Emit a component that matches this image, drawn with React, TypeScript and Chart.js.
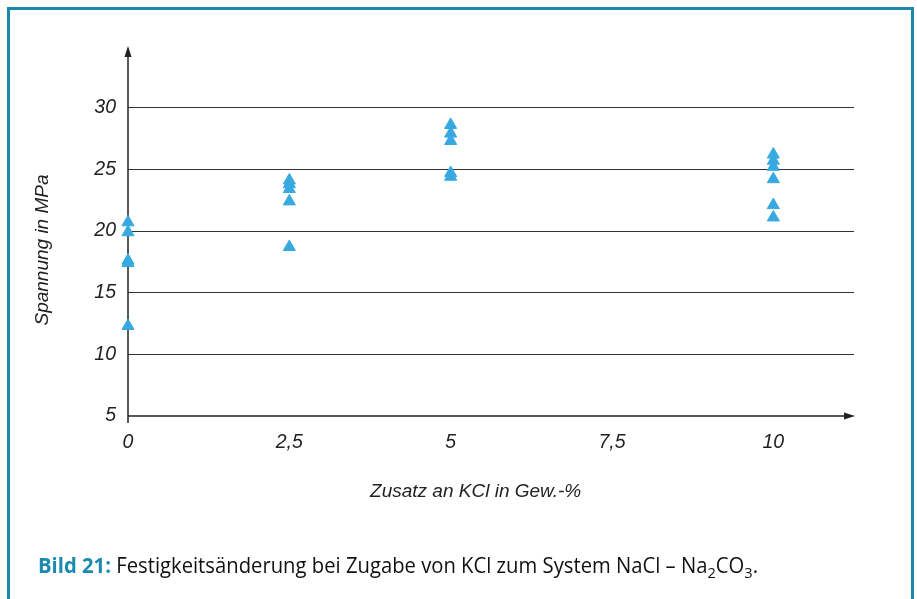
import React, { useEffect, useLayoutEffect, useRef } from "react";
import { Chart, registerables } from "chart.js";

Chart.register(...registerables);

// ---- data ----
const kclAdditions = [0, 2.5, 5, 10];
const stressAt0 = [20.7, 19.9, 17.6, 17.4, 12.3];
const stressAt2_5 = [24.1, 23.8, 23.4, 22.4, 18.7];
const stressAt5 = [28.6, 27.9, 27.3, 24.7, 24.4];
const stressAt10 = [26.2, 25.7, 25.2, 24.2, 22.1, 21.1];
const stressSeries = [stressAt0, stressAt2_5, stressAt5, stressAt10];

const xTickValues = [0, 2.5, 5, 7.5, 10];
const xTickLabels = ["0", "2,5", "5", "7,5", "10"];
const yTickValues = [5, 10, 15, 20, 25, 30];
const yTickLabels = ["5", "10", "15", "20", "25", "30"];

const xMin = 0;
const xMax = 11.25;
const yMin = 5;
const yMax = 35;

const xTitle = "Zusatz an KCl in Gew.-%";
const yTitle = "Spannung in MPa";

const POINT_COLOR = "#38a9e0";
const INK = "#222222";
const FONT = "'Liberation Sans', Arial, sans-serif";

const axesPlugin = {
  id: "arrowAxes",
  beforeDatasetsDraw(chart: any) {
    const { ctx, chartArea, scales } = chart;
    const ox = scales.x.getPixelForValue(xMin);
    const oy = scales.y.getPixelForValue(yMin);
    const top = chartArea.top;
    const right = chartArea.right + 1;
    ctx.save();
    ctx.strokeStyle = INK;
    ctx.fillStyle = INK;
    ctx.lineWidth = 1.5;
    // y axis
    ctx.beginPath();
    ctx.moveTo(ox, oy + 7);
    ctx.lineTo(ox, top + 8);
    ctx.stroke();
    ctx.beginPath();
    ctx.moveTo(ox, top);
    ctx.lineTo(ox - 3.5, top + 11);
    ctx.lineTo(ox + 3.5, top + 11);
    ctx.closePath();
    ctx.fill();
    // x axis
    ctx.beginPath();
    ctx.moveTo(ox, oy);
    ctx.lineTo(right - 8, oy);
    ctx.stroke();
    ctx.beginPath();
    ctx.moveTo(right, oy);
    ctx.lineTo(right - 11, oy - 3.5);
    ctx.lineTo(right - 11, oy + 3.5);
    ctx.closePath();
    ctx.fill();
    ctx.restore();
  },
  afterDraw(chart: any) {
    const { ctx, scales } = chart;
    ctx.save();
    ctx.fillStyle = INK;
    ctx.font = `italic 19px ${FONT}`;
    ctx.textAlign = "center";
    ctx.textBaseline = "middle";
    // x title
    const xc = (scales.x.getPixelForValue(0) + scales.x.getPixelForValue(10)) / 2 + 25;
    ctx.fillText(xTitle, xc, 492);
    // y title
    ctx.translate(43, 250);
    ctx.rotate(-Math.PI / 2);
    ctx.fillText(yTitle, 0, 0);
    ctx.restore();
  },
};

function ChartCanvas() {
  const canvasRef = useRef<HTMLCanvasElement | null>(null);
  useEffect(() => {
    const canvas = canvasRef.current;
    if (!canvas) return;
    const points: { x: number; y: number }[] = [];
    kclAdditions.forEach((k, i) => {
      stressSeries[i].forEach((v) => points.push({ x: k, y: v }));
    });
    const chart = new Chart(canvas, {
      type: "scatter",
      data: {
        datasets: [
          {
            data: points,
            clip: false,
            pointStyle: "triangle",
            pointRadius: 7,
            pointBorderWidth: 1,
            backgroundColor: POINT_COLOR,
            borderColor: POINT_COLOR,
          },
        ],
      },
      options: {
        animation: false,
        responsive: false,
        maintainAspectRatio: false,
        events: [],
        layout: { padding: { left: 0, top: 46, right: 63, bottom: 0 } },
        plugins: {
          legend: { display: false },
          title: { display: false },
          tooltip: { enabled: false },
        },
        scales: {
          x: {
            type: "linear",
            min: xMin,
            max: xMax,
            afterFit(scale: any) {
              scale.height = 183;
            },
            afterBuildTicks(scale: any) {
              scale.ticks = xTickValues.map((v) => ({ value: v }));
            },
            border: { display: false },
            grid: { display: false, drawTicks: false },
            ticks: {
              padding: 15,
              color: INK,
              font: { family: FONT, size: 19.5, style: "italic" },
              callback: (v: any) => {
                const i = xTickValues.indexOf(Number(v));
                return i >= 0 ? xTickLabels[i] : "";
              },
            },
          },
          y: {
            type: "linear",
            min: yMin,
            max: yMax,
            afterFit(scale: any) {
              scale.width = 128;
            },
            afterBuildTicks(scale: any) {
              scale.ticks = yTickValues.map((v) => ({ value: v }));
            },
            border: { display: false },
            grid: {
              drawTicks: false,
              color: (c: any) => (c.tick && c.tick.value > yMin ? "#333333" : "rgba(0,0,0,0)"),
              lineWidth: 1,
            },
            ticks: {
              padding: 12,
              color: INK,
              font: { family: FONT, size: 19.5, style: "italic" },
              callback: (v: any) => {
                const i = yTickValues.indexOf(Number(v));
                return i >= 0 ? yTickLabels[i] : "";
              },
            },
          },
        },
      },
      plugins: [axesPlugin],
    });
    return () => chart.destroy();
  }, []);
  return (
    <canvas
      ref={canvasRef}
      width={917}
      height={599}
      style={{ position: "absolute", left: 0, top: 0, width: 917, height: 599 }}
    />
  );
}

function Caption() {
  const ref = useRef<HTMLSpanElement | null>(null);
  useLayoutEffect(() => {
    const el = ref.current;
    if (!el) return;
    el.style.transform = "none";
    const w = el.getBoundingClientRect().width;
    if (w > 0) el.style.transform = `scaleX(${720 / w})`;
  }, []);
  const subStyle: React.CSSProperties = { fontSize: "0.72em", verticalAlign: "-0.3em", lineHeight: 0 };
  return (
    <span
      ref={ref}
      style={{
        position: "absolute",
        left: 38,
        top: 555,
        fontFamily: "'Open Sans', 'Noto Sans', sans-serif",
        fontSize: 21,
        lineHeight: "20px",
        color: "#111111",
        whiteSpace: "nowrap",
        transformOrigin: "left center",
      }}
    >
      <span style={{ color: "#1a8ab0", fontWeight: 700 }}>Bild 21:</span> Festigkeitsänderung bei Zugabe von KCl zum
      System NaCl – Na<sub style={subStyle}>2</sub>CO<sub style={subStyle}>3</sub>.
    </span>
  );
}

export default function App() {
  return (
    <div
      style={{
        position: "fixed",
        left: 0,
        top: 0,
        width: 917,
        height: 599,
        overflow: "hidden",
        background: "#ffffff",
      }}
    >
      <div
        style={{
          position: "absolute",
          left: 7,
          top: 7,
          width: 907,
          height: 640,
          boxSizing: "border-box",
          border: "3px solid #1a88ad",
        }}
      />
      <ChartCanvas />
      <Caption />
    </div>
  );
}
